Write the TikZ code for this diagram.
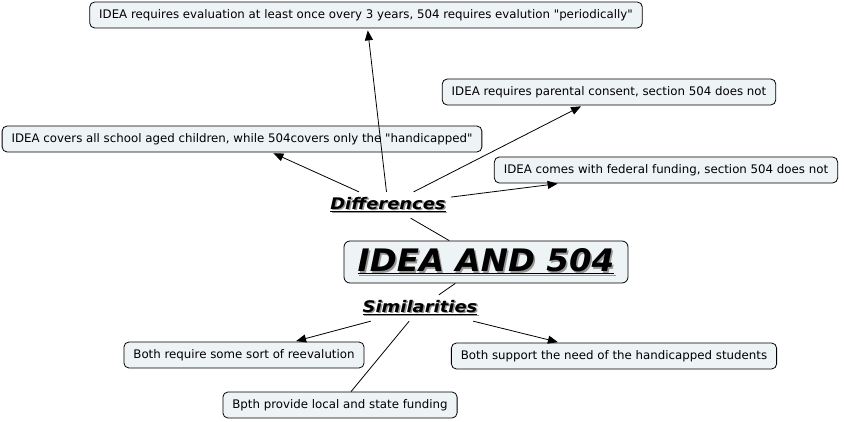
\documentclass[tikz,border=0pt]{standalone}
\usepackage{fontspec}
\setmainfont{DejaVu Sans}
\newfontfamily\hubfont[FakeStretch=1.12]{DejaVu Sans}
\newfontfamily\titlefont[FakeStretch=1.05]{DejaVu Sans}
\usetikzlibrary{arrows.meta}
\definecolor{boxfill}{RGB}{238,243,245}
\definecolor{shadowgray}{RGB}{150,150,150}
% text with a grey drop shadow
\newcommand{\shadowed}[1]{\makebox[0pt][l]{\color{shadowgray}\kern1.5pt\raisebox{-1.5pt}{#1}}#1}
\newcommand{\qq}{\textquotedbl}

\tikzset{
  idea/.style={draw,line width=0.8pt,fill=boxfill,rounded corners=5pt,minimum height=26pt,
    inner xsep=9.5pt,font=\fontsize{11.8}{14}\selectfont},
  hub/.style={font=\hubfont\bfseries\itshape\fontsize{16}{19}\selectfont,inner sep=5pt},
  link/.style={line width=0.8pt},
  arr/.style={link,-{Triangle[length=10pt,width=8pt]},shorten >=2pt},
}

\begin{document}
\begin{tikzpicture}[x=1pt,y=-1pt]
\useasboundingbox (0,0) rectangle (844,422);
% central topic
\node[draw,line width=0.8pt,fill=boxfill,rounded corners=6pt,minimum width=284pt,minimum height=42pt,
  font=\titlefont\bfseries\itshape\fontsize{31}{36}\selectfont] (main) at (486,262)
  {\shadowed{\underline{IDEA AND 504}}};
% linking phrases
\node[hub] (diff) at (388,205) {\shadowed{\underline{Differences}}};
\node[hub] (sim) at (420,308) {\shadowed{\underline{Similarities}}};
% differences
\node[idea] (eval) at (366,15) {IDEA requires evaluation at least once overy 3 years, 504 requires evalution \qq periodically\qq};
\node[idea] (consent) at (609,92) {IDEA requires parental consent, section 504 does not};
\node[idea] (covers) at (242,139) {IDEA covers all school aged children, while 504covers only the \qq handicapped\qq};
\node[idea] (federal) at (666,170) {IDEA comes with federal funding, section 504 does not};
% similarities
\node[idea] (reeval) at (244,355) {Both require some sort of reevalution};
\node[idea] (support) at (614,356) {Both support the need of the handicapped students};
\node[idea] (local) at (340,405) {Bpth provide local and state funding};
% connectors
\draw[link] (diff) -- (main);
\draw[link] (main) -- (sim);
\draw[arr] (diff) -- (eval);
\draw[arr] (diff) -- (consent);
\draw[arr] (diff) -- (covers);
\draw[arr] (diff) -- (federal);
\draw[arr] (sim) -- (reeval);
\draw[arr] (sim) -- (support);
\draw[link] (sim) -- (local);
\end{tikzpicture}
\end{document}
